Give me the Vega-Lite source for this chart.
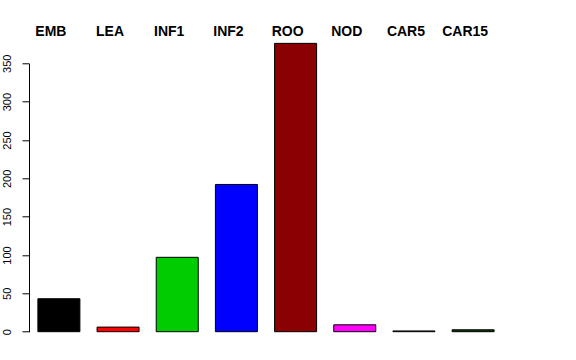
{
  "$schema": "https://vega.github.io/schema/vega-lite/v6.json",
  "width": 474,
  "height": 268.4,
  "autosize": {"type": "none"},
  "padding": {"left": 29, "top": 63.3, "right": 73, "bottom": 28.3},
  "background": "white",
  "config": {
    "view": {"stroke": null},
    "font": "Liberation Sans"
  },
  "data": {
    "values": [
      {"group": "EMB", "value": 43},
      {"group": "LEA", "value": 6},
      {"group": "INF1", "value": 97},
      {"group": "INF2", "value": 192},
      {"group": "ROO", "value": 376},
      {"group": "NOD", "value": 9},
      {"group": "CAR5", "value": 1},
      {"group": "CAR15", "value": 2.5}
    ]
  },
  "mark": {"type": "bar", "stroke": "black", "strokeWidth": 1, "clip": false},
  "encoding": {
    "x": {
      "field": "group",
      "type": "nominal",
      "sort": null,
      "scale": {"paddingInner": 0.29, "paddingOuter": 0.15},
      "axis": {
        "orient": "top",
        "title": null,
        "domain": false,
        "ticks": false,
        "tickSize": 0,
        "labelPadding": 25,
        "labelAngle": 0,
        "labelOffset": -8,
        "labelFontSize": 14,
        "labelFontWeight": "bold",
        "labelColor": "black",
        "labelFont": "Liberation Sans"
      }
    },
    "y": {
      "field": "value",
      "type": "quantitative",
      "scale": {"domain": [0, 350], "nice": false, "zero": true},
      "axis": {
        "title": null,
        "grid": false,
        "values": [0, 50, 100, 150, 200, 250, 300, 350],
        "labelAngle": 270,
        "labelAlign": "center",
        "labelBaseline": "bottom",
        "tickSize": 7,
        "labelPadding": 10,
        "labelFontSize": 11,
        "labelColor": "black",
        "domainColor": "black",
        "tickColor": "black",
        "labelFont": "Liberation Sans"
      }
    },
    "color": {
      "field": "group",
      "type": "nominal",
      "sort": null,
      "scale": {
        "domain": ["EMB", "LEA", "INF1", "INF2", "ROO", "NOD", "CAR5", "CAR15"],
        "range": ["#000000", "#FF0000", "#00CD00", "#0000FF", "#8B0000", "#FF00FF", "#5A5A80", "#0B3D0B"]
      },
      "legend": null
    }
  }
}
